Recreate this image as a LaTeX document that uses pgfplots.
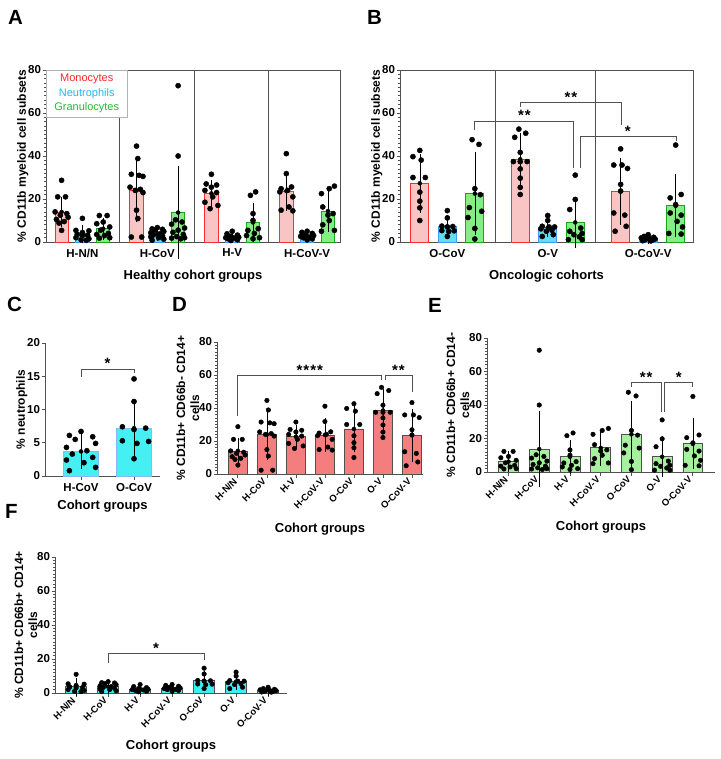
\documentclass[border=0pt]{standalone}
\usepackage{pgfplots}
\pgfplotsset{compat=1.18}
\usepackage{pgfplotstable}
\usepackage{fontspec}
\setmainfont{Liberation Sans}

\definecolor{monoFill}{HTML}{F9C4C4}
\definecolor{monoEdge}{HTML}{FF2E2E}
\definecolor{neutFill}{HTML}{62DDF5}
\definecolor{neutEdge}{HTML}{3D9BF0}
\definecolor{granFill}{HTML}{86EC86}
\definecolor{granEdge}{HTML}{17A817}
\definecolor{monoD}{HTML}{F47E7E}
\definecolor{granE}{HTML}{A6F0A0}
\definecolor{neutF}{HTML}{3DEEF2}
\definecolor{neutC}{HTML}{45F0F2}
\definecolor{neutCEdge}{HTML}{8AB8F0}
\definecolor{axgray}{HTML}{505050}
\definecolor{legMono}{HTML}{FF2A2A}
\definecolor{legNeut}{HTML}{2AB4F0}
\definecolor{legGran}{HTML}{22BB3C}

% summaries: group index 0..6 = H-N/N, H-CoV, H-V, H-CoV-V, O-CoV, O-V, O-CoV-V
\pgfplotstableread{
g mean sd
0 14.0 5.7
1 24.0 13.3
2 22.6 4.9
3 23.7 7.7
4 27.3 11.8
5 38.5 10.3
6 23.5 13.5
}\monoSum
\pgfplotstableread{
g mean sd
0 3.7 3.0
1 3.7 1.9
2 2.3 1.3
3 2.9 1.2
4 7.2 3.6
5 6.7 2.4
6 1.6 0.9
}\neutSum
\pgfplotstableread{
g mean sd
0 6.2 3.8
1 13.7 20.3
2 9.1 7.7
3 14.4 8.2
4 22.5 17.3
5 9.1 9.9
6 16.8 12.8
}\granSum

\pgfplotstableread{
g dx y
0 0 28.7
0 -0.15 21
0 0.15 21
0 -0.25 14
0 0.2 13.2
0 -0.05 12.5
0 0.25 11.5
0 -0.2 10.5
0 0.1 9.5
0 -0.1 8.8
0 0 5.4
1 0 44.6
1 0.05 38.8
1 -0.2 31.5
1 0.1 31
1 0.25 30.5
1 -0.25 25.5
1 0.15 24.5
1 -0.05 24
1 0.25 23
1 0 14.8
1 0.05 10.9
1 -0.2 2.3
1 0.2 2.3
2 0 31.5
2 -0.2 27
2 0.2 26.5
2 0 25.5
2 -0.25 24
2 0.2 23
2 0.05 21
2 -0.25 18.5
2 0.25 17
2 -0.05 15.5
3 0 41.1
3 0 31.8
3 0.2 25.6
3 -0.2 24.8
3 0.05 24
3 -0.25 23.3
3 0.25 21
3 0.1 16.3
3 -0.2 14.8
3 0.25 14.5
4 0 42.6
4 -0.25 39.7
4 0.05 38.1
4 -0.25 30
4 0.2 30
4 0 23.2
4 0 19
4 0 15.9
4 0 10
5 -0.05 52.5
5 0.2 50.6
5 -0.2 48.7
5 0 41.7
5 -0.25 37.4
5 0 37.4
5 0.25 37.4
5 0 34
5 0 29.7
5 0 25.4
5 0 22.1
6 0 43.3
6 -0.25 35.8
6 0.05 35.8
6 0.25 34.2
6 0 26.8
6 0 23.7
6 -0.25 13.5
6 0.15 12.5
6 0.2 7.3
6 -0.2 5
}\monoPts

\pgfplotstableread{
g dx y
0 0 11
0 -0.25 5.4
0 0.25 5.2
0 0 4.4
0 -0.2 3.6
0 0.2 3.2
0 0 3
0 -0.25 2
0 0.25 1.5
0 -0.05 1
0 0.15 0.8
1 0 6.7
1 -0.2 6.1
1 0.2 5.9
1 -0.1 5.5
1 0.25 4.9
1 -0.25 4.3
1 0.1 3.8
1 -0.15 3.3
1 0.2 2.8
1 -0.25 2.4
1 0.05 2.0
1 0.25 1.3
1 -0.2 0.8
2 0 5
2 -0.2 3.8
2 0.2 3.2
2 -0.05 2.6
2 0.25 2.2
2 -0.25 2
2 0.1 1.8
2 -0.15 1.5
2 0.2 1
2 -0.05 0.7
3 0 5
3 -0.2 4.5
3 0.2 4
3 -0.1 3.3
3 0.25 3
3 -0.25 2.6
3 0.1 2.2
3 -0.15 2
3 0.2 1.5
3 0 1
4 0 14.6
4 0 11.2
4 -0.2 7.4
4 0.2 7.2
4 0 7.0
4 -0.2 5.3
4 0.25 5.2
4 0.05 4.9
4 0 2.6
5 0 12.3
5 0 10
5 -0.2 7.3
5 0.05 7
5 0.25 7
5 -0.25 6.1
5 0.15 5.5
5 -0.05 5
5 0.2 3.4
5 -0.2 2.6
6 0 3.4
6 -0.15 2.6
6 0.2 2.2
6 -0.25 1.9
6 0.05 1.6
6 0.25 1.4
6 -0.1 1.1
6 0.15 0.9
6 -0.2 0.6
6 0.1 0.5
}\neutPts

\pgfplotstableread{
g dx y
0 -0.15 12.3
0 0.15 12.3
0 0 9.3
0 -0.25 8.5
0 0.25 7
0 -0.1 5.5
0 0.2 4
0 -0.25 3.5
0 0.05 3
0 0.25 2
0 -0.15 1.8
1 0 72.7
1 0 40
1 -0.1 10.3
1 0.15 9.3
1 -0.25 8.3
1 0.25 6.5
1 0 5.5
1 -0.2 4.5
1 0.2 3.5
1 -0.05 2.5
1 0.25 2
1 -0.25 1.8
1 0.1 1.5
2 0.1 23.3
2 -0.1 21.7
2 0 13.2
2 0 10
2 0.2 6.2
2 -0.2 5.4
2 0.05 4
2 -0.25 3
2 0.25 2
2 0 1.5
3 0.25 26
3 0.05 24.8
3 -0.25 22.5
3 -0.2 16.3
3 0.2 13.2
3 0 12.5
3 0.05 10
3 -0.2 8
3 0.25 5.4
3 -0.25 5
4 -0.1 47.6
4 0.15 45.4
4 0 24.8
4 0.2 22
4 -0.2 16
4 0.25 14.3
4 -0.25 11.4
4 0 6.3
4 0 1.4
5 0 31.1
5 0 19.8
5 -0.2 15.1
5 0.2 6.5
5 -0.2 5
5 0.25 4
5 -0.05 3.4
5 0.15 2.4
5 -0.25 1.1
5 0.25 1.1
6 0 45.1
6 0.2 22.1
6 -0.2 20.5
6 0 17.4
6 -0.2 13.5
6 0.2 12.5
6 0.05 9.6
6 0.25 7
6 -0.25 4
6 0.2 3.7
}\granPts

\pgfplotsset{
  panel/.style={scale only axis, clip=false,
    axis line style={axgray, line width=0.8pt},
    tick style={axgray, line width=0.8pt},
    tick align=outside, major tick length=3.5pt, minor tick length=1.6pt,
    tick pos=left,
    /pgf/number format/assume math mode=true,
    tick label style={font=\fontsize{11.5}{13}\selectfont\bfseries},
    yticklabel style={xshift=2pt},
    xlabel style={font=\fontsize{13}{15}\selectfont\bfseries},
    ylabel style={font=\fontsize{12}{14}\selectfont\bfseries, align=center, yshift=-7pt},
    ymin=0},
  pts/.style={only marks, mark=*, mark size=#1, mark options={black, fill=black, draw=black}},
  errs/.style={only marks, mark=none, error bars/y dir=both, error bars/y explicit,
    error bars/error bar style={black, line width=0.6pt},
    error bars/error mark options={black, line width=0.6pt, mark size=#1}},
  rotlab/.style={xticklabel style={rotate=45, anchor=east, font=\fontsize{9.5}{11}\selectfont\bfseries}}
}
\tikzset{
  brk/.style={axgray, line width=0.8pt},
  star/.style={anchor=base, inner sep=0pt, font=\fontsize{15}{15}\selectfont\bfseries},
  letter/.style={anchor=north west, inner sep=0pt, font=\fontsize{20.5}{21}\selectfont\bfseries}
}

\begin{document}
\begin{tikzpicture}
\path[use as bounding box] (0,0) rectangle (720pt,-759pt);

% ---------------- Panel A ----------------
\begin{axis}[panel, at={(46pt,-242pt)}, anchor=south west, width=294pt, height=172pt,
  xmin=-0.75, xmax=13.38, ymax=80, ytick={0,20,40,60,80}, minor y tick num=9,
  xtick={1,4.6,8.2,11.8}, xticklabels={H-N/N,H-CoV,H-V,H-CoV-V}, xtick style={draw=none},
  xlabel style={yshift=-6pt},
  xlabel={Healthy cohort groups}, ylabel={\% CD11b myeloid cell subsets}]
\draw[axgray, line width=0.8pt] (axis cs:2.76,0) -- (axis cs:2.76,80);
\draw[axgray, line width=0.8pt] (axis cs:6.37,0) -- (axis cs:6.37,80);
\draw[axgray, line width=0.8pt] (axis cs:9.92,0) -- (axis cs:9.92,80);
\addplot[ybar, bar shift=0pt, bar width=0.64, fill=monoFill, draw=monoEdge, line width=0.8pt, restrict x to domain=-1:13.8] table[x expr=\thisrow{g}*3.6, y=mean]{\monoSum};
\addplot[ybar, bar shift=0pt, bar width=0.64, fill=neutFill, draw=neutEdge, line width=0.8pt, restrict x to domain=-1:13.8] table[x expr=\thisrow{g}*3.6+1, y=mean]{\neutSum};
\addplot[ybar, bar shift=0pt, bar width=0.64, fill=granFill, draw=granEdge, line width=0.8pt, restrict x to domain=-1:13.8] table[x expr=\thisrow{g}*3.6+2, y=mean]{\granSum};
\addplot[restrict x to domain=-1:13.8, errs=3pt] table[x expr=\thisrow{g}*3.6, y=mean, y error=sd]{\monoSum};
\addplot[restrict x to domain=-1:13.8, errs=3pt] table[x expr=\thisrow{g}*3.6+1, y=mean, y error=sd]{\neutSum};
\addplot[restrict x to domain=-1:13.8, errs=3pt] table[x expr=\thisrow{g}*3.6+2, y=mean, y error=sd]{\granSum};
\addplot[pts=2.6pt, restrict x to domain=-1:13.8] table[x expr=\thisrow{g}*3.6+\thisrow{dx}*1.25, y=y]{\monoPts};
\addplot[pts=2.6pt, restrict x to domain=-1:13.8] table[x expr=\thisrow{g}*3.6+1+\thisrow{dx}*1.25, y=y]{\neutPts};
\addplot[pts=2.6pt, restrict x to domain=-1:13.8] table[x expr=\thisrow{g}*3.6+2+\thisrow{dx}*1.25, y=y]{\granPts};
\node[anchor=north west, draw=gray!60, fill=white, inner sep=0pt, minimum width=81pt, minimum height=47pt, align=center, font=\fontsize{11}{14.5}\selectfont] at (rel axis cs:0,1)
  {\textcolor{legMono}{Monocytes}\\\textcolor{legNeut}{Neutrophils}\\\textcolor{legGran}{Granulocytes}};
\end{axis}

% ---------------- Panel B ----------------
\begin{axis}[panel, at={(400pt,-242pt)}, anchor=south west, width=293pt, height=172pt,
  xmin=-0.72, xmax=9.93, ymax=80, ytick={0,20,40,60,80}, minor y tick num=9,
  xtick={1,4.65,8.3}, xticklabels={O-CoV,O-V,O-CoV-V}, xtick style={draw=none},
  xlabel style={yshift=-6pt},
  xlabel={Oncologic cohorts}, ylabel={\% CD11b myeloid cell subsets}]
\draw[axgray, line width=0.8pt] (axis cs:2.76,0) -- (axis cs:2.76,80);
\draw[axgray, line width=0.8pt] (axis cs:6.4,0) -- (axis cs:6.4,80);
\addplot[ybar, bar shift=0pt, bar width=0.65, fill=monoFill, draw=monoEdge, line width=0.8pt, restrict x to domain=-1:10.5] table[x expr=(\thisrow{g}-4)*3.65, y=mean]{\monoSum};
\addplot[ybar, bar shift=0pt, bar width=0.65, fill=neutFill, draw=neutEdge, line width=0.8pt, restrict x to domain=-1:10.5] table[x expr=(\thisrow{g}-4)*3.65+1, y=mean]{\neutSum};
\addplot[ybar, bar shift=0pt, bar width=0.65, fill=granFill, draw=granEdge, line width=0.8pt, restrict x to domain=-1:10.5] table[x expr=(\thisrow{g}-4)*3.65+2, y=mean]{\granSum};
\addplot[restrict x to domain=-1:10.5, errs=4pt] table[x expr=(\thisrow{g}-4)*3.65, y=mean, y error=sd]{\monoSum};
\addplot[restrict x to domain=-1:10.5, errs=4pt] table[x expr=(\thisrow{g}-4)*3.65+1, y=mean, y error=sd]{\neutSum};
\addplot[restrict x to domain=-1:10.5, errs=4pt] table[x expr=(\thisrow{g}-4)*3.65+2, y=mean, y error=sd]{\granSum};
\addplot[pts=2.6pt, restrict x to domain=-1:10.5] table[x expr=(\thisrow{g}-4)*3.65+\thisrow{dx}, y=y]{\monoPts};
\addplot[pts=2.6pt, restrict x to domain=-1:10.5] table[x expr=(\thisrow{g}-4)*3.65+1+\thisrow{dx}, y=y]{\neutPts};
\addplot[pts=2.6pt, restrict x to domain=-1:10.5] table[x expr=(\thisrow{g}-4)*3.65+2+\thisrow{dx}, y=y]{\granPts};
\draw[brk] (axis cs:2,52) |- (axis cs:5.6,56.3) -- (axis cs:5.6,34.5);
\node[star] at (axis cs:3.8,56.3) {*\kern1pt*};
\draw[brk] (axis cs:3.67,63) |- (axis cs:7.31,65) -- (axis cs:7.31,54.5);
\node[star] at (axis cs:5.49,65) {*\kern1pt*};
\draw[brk] (axis cs:5.82,34.5) |- (axis cs:9.31,49.3) -- (axis cs:9.31,47);
\node[star] at (axis cs:7.56,49.3) {*};
\end{axis}

% ---------------- Panel C ----------------
\begin{axis}[panel, axis lines*=left, at={(45pt,-476pt)}, anchor=south west, width=115pt, height=133pt,
  xmin=-0.68, xmax=1.49, ymax=20, ytick={0,5,10,15,20},
  xtick={0,1}, xticklabels={H-CoV,O-CoV},
  xticklabel style={font=\fontsize{11.5}{13}\selectfont\bfseries},
  xlabel style={yshift=-2pt},
  xlabel={Cohort groups}, ylabel={\% neutrophils}]
\addplot[ybar, bar shift=0pt, bar width=0.66, fill=neutC, draw=neutCEdge, line width=0.8pt, restrict x to domain=-1:2] table[x expr={\thisrow{g}==1 ? 0 : (\thisrow{g}==4 ? 1 : 50)}, y=mean]{\neutSum};
\addplot[restrict x to domain=-1:2, errs=5pt] table[x expr={\thisrow{g}==1 ? 0 : (\thisrow{g}==4 ? 1 : 50)}, y=mean, y error=sd]{\neutSum};
\addplot[pts=2.6pt, restrict x to domain=-1:2] table[x expr={(\thisrow{g}==1 ? 0 : (\thisrow{g}==4 ? 1 : 50))+\thisrow{dx}*1.1}, y=y]{\neutPts};
\draw[brk] (axis cs:0,14.9) |- (axis cs:1,16.1) -- (axis cs:1,15.5);
\node[star] at (axis cs:0.5,16.1) {*};
\end{axis}

% ---------------- Panel D ----------------
\begin{axis}[panel, rotlab, axis lines*=left, at={(217pt,-474pt)}, anchor=south west, width=206pt, height=132pt,
  xmin=-0.72, xmax=6.38, ymax=80, ytick={0,20,40,60,80}, minor y tick num=9,
  xtick={0,...,6}, xticklabels={H-N/N,H-CoV,H-V,H-CoV-V,O-CoV,O-V,O-CoV-V},
  xlabel style={yshift=-5pt},
  xlabel={Cohort groups}, ylabel={\% CD11b+ CD66b- CD14+\\cells}]
\addplot[ybar, bar shift=0pt, bar width=0.65, fill=monoD, draw=axgray, line width=0.8pt] table[x=g, y=mean]{\monoSum};
\addplot[errs=4pt] table[x=g, y=mean, y error=sd]{\monoSum};
\addplot[pts=2.3pt] table[x expr=\thisrow{g}+\thisrow{dx}, y=y]{\monoPts};
\draw[brk] (axis cs:0,35) |- (axis cs:4.95,59.6) -- (axis cs:4.95,57);
\node[star] at (axis cs:2.48,59.6) {*\kern1pt*\kern1pt*\kern1pt*};
\draw[brk] (axis cs:5.07,57) |- (axis cs:6,59.6) -- (axis cs:6,50);
\node[star] at (axis cs:5.53,59.6) {*\kern1pt*};
\end{axis}

% ---------------- Panel E ----------------
\begin{axis}[panel, rotlab, axis lines*=left, at={(487pt,-472pt)}, anchor=south west, width=228pt, height=134pt,
  xmin=-0.7, xmax=6.72, ymax=80, ytick={0,20,40,60,80}, minor y tick num=9,
  xtick={0,...,6}, xticklabels={H-N/N,H-CoV,H-V,H-CoV-V,O-CoV,O-V,O-CoV-V},
  xlabel style={yshift=-5pt},
  xlabel={Cohort groups}, ylabel={\% CD11b+ CD66b+ CD14-\\cells}]
\addplot[ybar, bar shift=0pt, bar width=0.65, fill=granE, draw=axgray, line width=0.8pt] table[x=g, y=mean]{\granSum};
\addplot[errs=4pt] table[x=g, y=mean, y error=sd]{\granSum};
\addplot[pts=2.3pt] table[x expr=\thisrow{g}+\thisrow{dx}, y=y]{\granPts};
\draw[brk] (axis cs:4,50.9) |- (axis cs:4.96,53.5) -- (axis cs:4.96,36);
\node[star] at (axis cs:4.48,53.5) {*\kern1pt*};
\draw[brk] (axis cs:5.08,36) |- (axis cs:6,53.5) -- (axis cs:6,51);
\node[star] at (axis cs:5.54,53.5) {*};
\end{axis}

% ---------------- Panel F ----------------
\begin{axis}[panel, rotlab, axis lines*=left, at={(55pt,-693pt)}, anchor=south west, width=232pt, height=136pt,
  xmin=-0.66, xmax=6.59, ymax=80, ytick={0,20,40,60,80}, minor y tick num=9,
  xtick={0,...,6}, xticklabels={H-N/N,H-CoV,H-V,H-CoV-V,O-CoV,O-V,O-CoV-V},
  xlabel style={yshift=-3pt},
  xlabel={Cohort groups}, ylabel={\% CD11b+ CD66b+ CD14+\\cells}]
\addplot[ybar, bar shift=0pt, bar width=0.66, fill=neutF, draw=axgray, line width=0.8pt] table[x=g, y=mean]{\neutSum};
\addplot[errs=4pt] table[x=g, y=mean, y error=sd]{\neutSum};
\addplot[pts=2.3pt] table[x expr=\thisrow{g}+\thisrow{dx}, y=y]{\neutPts};
\draw[brk] (axis cs:1,17.6) |- (axis cs:4,23.5) -- (axis cs:4,19.2);
\node[star] at (axis cs:2.5,23.5) {*};
\end{axis}

% panel letters
\node[letter] at (8pt,-10pt) {A};
\node[letter] at (367pt,-10pt) {B};
\node[letter] at (7pt,-297pt) {C};
\node[letter] at (172pt,-297pt) {D};
\node[letter] at (428pt,-298pt) {E};
\node[letter] at (5pt,-504pt) {F};
\end{tikzpicture}
\end{document}
